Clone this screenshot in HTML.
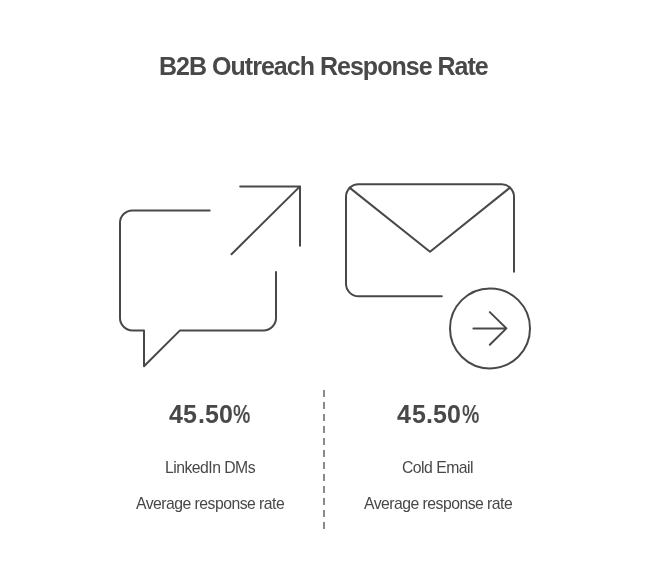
<!DOCTYPE html>
<html><head><meta charset="utf-8">
<style>
html,body{margin:0;padding:0;background:#fff;}
body{-webkit-font-smoothing:antialiased;width:648px;height:565px;position:relative;overflow:hidden;font-family:"Liberation Sans",sans-serif;color:#484848;}
.t{will-change:transform;position:absolute;white-space:nowrap;line-height:1;}
#title{left:159px;top:54px;font-size:25px;font-weight:bold;letter-spacing:-0.98px;}
.pct{font-size:25px;font-weight:bold;letter-spacing:-0.75px;}
.lbl{font-size:15.75px;letter-spacing:-0.52px;}
svg{position:absolute;left:0;top:0;}
</style></head><body>
<svg width="648" height="565" viewBox="0 0 648 565" fill="none" stroke="#484848" stroke-width="2" stroke-linecap="round" stroke-linejoin="round">
  <path d="M209.7 210.4 H132.5 A12.5 12.5 0 0 0 120 222.9 V317.9 A12.5 12.5 0 0 0 132.5 330.4 H144 V366.2 L180 330.4 H263.5 A12.5 12.5 0 0 0 276 317.9 V272.1"/>
  <path d="M240.2 186.4 H300 V245.7 M300 186.4 L231.5 254.2"/>
  <path d="M441.8 296.3 H358.5 A12.5 12.5 0 0 1 346 283.8 V196.8 A12.5 12.5 0 0 1 358.5 184.3 H501.5 A12.5 12.5 0 0 1 514 196.8 V271.8"/>
  <path d="M349.5 187.6 L430 251.8 L510 187.6"/>
  <circle cx="490" cy="328.4" r="40"/>
  <path d="M473.4 328.4 H506.4 M489.8 312.1 L506.4 328.4 L489.8 344.7"/>
  <path d="M324 390 V529" stroke="#8a8a8a" stroke-linecap="butt" stroke-dasharray="7 5"/>
</svg>
<div class="t" id="title">B2B Outreach Response Rate</div>
<div class="t pct" style="left:169.0px;top:402px;">4</div>
<div class="t pct" style="left:183.4px;top:402px;">5</div>
<div class="t pct" style="left:197.5px;top:402px;">.</div>
<div class="t pct" style="left:205.0px;top:402px;">5</div>
<div class="t pct" style="left:219.2px;top:402px;">0</div>
<div class="t pct" style="left:233.3px;top:402px;transform:scaleX(0.78);transform-origin:0 0;">%</div>
<div class="t pct" style="left:397.2px;top:402px;">4</div>
<div class="t pct" style="left:411.6px;top:402px;">5</div>
<div class="t pct" style="left:425.7px;top:402px;">.</div>
<div class="t pct" style="left:433.2px;top:402px;">5</div>
<div class="t pct" style="left:447.4px;top:402px;">0</div>
<div class="t pct" style="left:461.5px;top:402px;transform:scaleX(0.78);transform-origin:0 0;">%</div>
<div class="t lbl" id="l1" style="left:165px;top:460px;">LinkedIn DMs</div>
<div class="t lbl" id="l2" style="left:402px;top:460px;">Cold Email</div>
<div class="t lbl" id="a1" style="left:136px;top:496px;letter-spacing:-0.52px;">Average response rate</div>
<div class="t lbl" id="a2" style="left:364px;top:496px;letter-spacing:-0.52px;">Average response rate</div>
</body></html>
